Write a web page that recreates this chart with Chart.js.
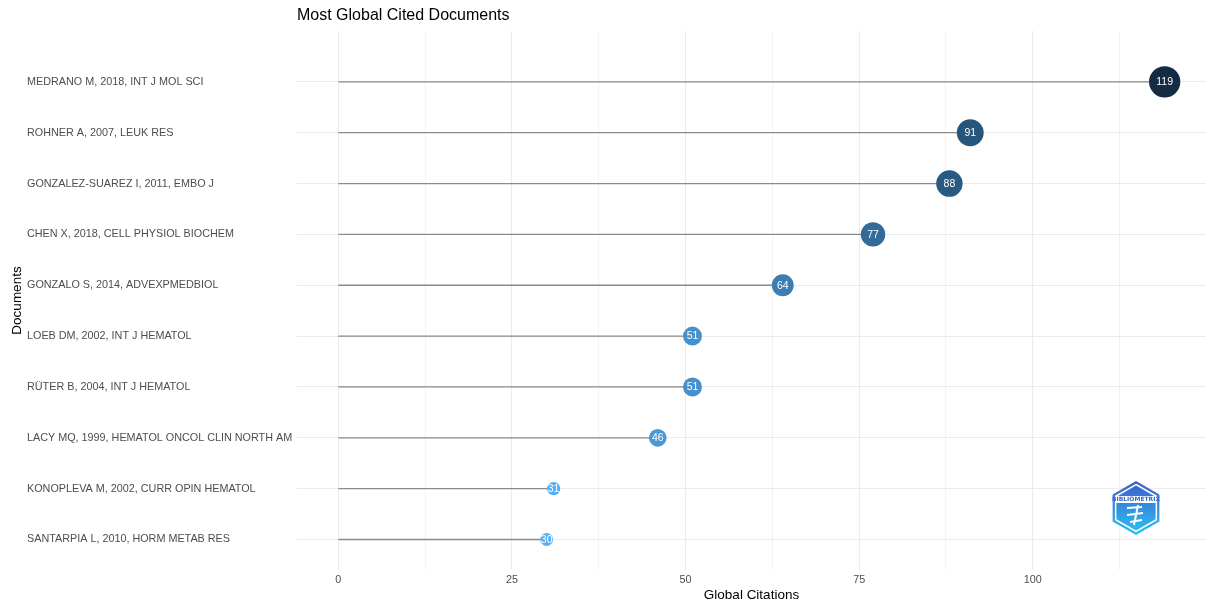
<!DOCTYPE html>
<html>
<head>
<meta charset="utf-8">
<script src="https://cdn.jsdelivr.net/npm/chart.js@4"></script>
<style>
    html, body { margin: 0; padding: 0; background: #ffffff; overflow: hidden; }
    canvas { display: block; }
</style>
</head>
<body>
<canvas id="chart" width="1206" height="605"></canvas>
<script>
// Documents, top to bottom as in the picture
const documents = [
    'MEDRANO M, 2018, INT J MOL SCI',
    'ROHNER A, 2007, LEUK RES',
    'GONZALEZ-SUAREZ I, 2011, EMBO J',
    'CHEN X, 2018, CELL PHYSIOL BIOCHEM',
    'GONZALO S, 2014, ADVEXPMEDBIOL',
    'LOEB DM, 2002, INT J HEMATOL',
    'RÜTER B, 2004, INT J HEMATOL',
    'LACY MQ, 1999, HEMATOL ONCOL CLIN NORTH AM',
    'KONOPLEVA M, 2002, CURR OPIN HEMATOL',
    'SANTARPIA L, 2010, HORM METAB RES'
];
const citations = [119, 91, 88, 77, 64, 51, 51, 46, 31, 30];
const xTickValues = [0, 25, 50, 75, 100];
const xMinorValues = [12.5, 37.5, 62.5, 87.5, 112.5];

const n = documents.length;
const minC = Math.min(...citations);
const maxC = Math.max(...citations);

// ggplot-like colour gradient (light blue -> dark navy)
function pointColor(v) {
    const lo = [86, 177, 247];
    const hi = [19, 43, 67];
    const t = (v - minC) / (maxC - minC);
    const c = lo.map((l, k) => Math.round(l + (hi[k] - l) * t));
    return `rgb(${c[0]}, ${c[1]}, ${c[2]})`;
}

// point size grows with area
function pointRadius(v) {
    const t = (v - minC) / (maxC - minC);
    return Math.sqrt(42 + t * (245 - 42));
}

// one stick per document
const stickSets = citations.map((v, i) => ({
    type: 'line',
    data: [{ x: 0, y: n - 1 - i }, { x: v, y: n - 1 - i }],
    borderColor: '#8a8a8a',
    borderWidth: 1.3,
    pointRadius: 0,
    order: 2
}));

const pointSet = {
    type: 'scatter',
    data: citations.map((v, i) => ({ x: v, y: n - 1 - i })),
    pointRadius: ctx => pointRadius(ctx.raw.x),
    pointHoverRadius: ctx => pointRadius(ctx.raw.x),
    backgroundColor: ctx => pointColor(ctx.raw.x),
    borderWidth: 0,
    clip: false,
    order: 1
};

function hexPath(ctx, cx, cy, r) {
    ctx.beginPath();
    for (let k = 0; k < 6; k++) {
        const a = -Math.PI / 2 + k * Math.PI / 3;
        const px = cx + r * Math.cos(a), py = cy + r * Math.sin(a);
        k === 0 ? ctx.moveTo(px, py) : ctx.lineTo(px, py);
    }
    ctx.closePath();
}

// value labels, titles and logo drawn by hand
const extras = {
    id: 'extras',
    afterDatasetsDraw(chart) {
        const ctx = chart.ctx;
        const meta = chart.getDatasetMeta(chart.data.datasets.length - 1);
        ctx.save();
        ctx.fillStyle = '#ffffff';
        ctx.textAlign = 'center';
        ctx.textBaseline = 'middle';
        ctx.font = '10.5px "Liberation Sans", Arial, sans-serif';
        meta.data.forEach((pt, i) => {
            ctx.fillText(String(citations[i]), pt.x, pt.y + 0.5);
        });
        ctx.restore();
    },
    afterDraw(chart) {
        const ctx = chart.ctx;
        const area = chart.chartArea;
        ctx.save();
        ctx.fillStyle = '#000000';
        ctx.textBaseline = 'middle';
        ctx.font = '16px "Liberation Sans", Arial, sans-serif';
        ctx.textAlign = 'left';
        ctx.fillText('Most Global Cited Documents', area.left, 16);

        ctx.font = '13.5px "Liberation Sans", Arial, sans-serif';
        ctx.translate(17, (area.top + area.bottom) / 2);
        ctx.rotate(-Math.PI / 2);
        ctx.textAlign = 'center';
        ctx.fillText('Documents', 0, 0);
        ctx.restore();

        // bibliometrix badge
        const cx = 1136, cy = 508, r = 27;
        ctx.save();
        const grad = ctx.createLinearGradient(0, cy - r, 0, cy + r);
        grad.addColorStop(0, '#3d5cc6');
        grad.addColorStop(1, '#2ac4f4');
        hexPath(ctx, cx, cy, r);
        ctx.fillStyle = grad;
        ctx.fill();
        hexPath(ctx, cx, cy, r - 3.5);
        ctx.strokeStyle = '#ffffff';
        ctx.lineWidth = 1.5;
        ctx.stroke();
        ctx.fillStyle = '#ffffff';
        ctx.fillRect(cx - 21, cy - 12, 42, 7);
        ctx.fillStyle = '#3566cf';
        ctx.font = 'bold 6px "DejaVu Sans", sans-serif';
        ctx.textAlign = 'center';
        ctx.textBaseline = 'middle';
        ctx.fillText('BIBLIOMETRIX', cx, cy - 8.5);
        ctx.strokeStyle = '#ffffff';
        ctx.lineWidth = 2;
        ctx.beginPath();
        ctx.moveTo(cx - 9, cy); ctx.lineTo(cx + 6, cy - 1);
        ctx.moveTo(cx - 9, cy + 7); ctx.lineTo(cx + 7, cy + 5);
        ctx.moveTo(cx - 6, cy + 14); ctx.lineTo(cx + 6, cy + 12);
        ctx.moveTo(cx + 2, cy - 3); ctx.lineTo(cx - 2, cy + 17);
        ctx.stroke();
        ctx.restore();
    }
};

new Chart(document.getElementById('chart'), {
    data: { datasets: [...stickSets, pointSet] },
    options: {
        responsive: false,
        animation: false,
        layout: {
            autoPadding: false,
            padding: { left: 27, top: 31, right: 0, bottom: 0 }
        },
        plugins: {
            legend: { display: false },
            tooltip: { enabled: false },
            title: { display: false }
        },
        scales: {
            x: {
                type: 'linear',
                min: -5.95,
                max: 124.95,
                afterBuildTicks: scale => {
                    scale.ticks = [...xTickValues, ...xMinorValues]
                        .sort((a, b) => a - b)
                        .map(v => ({ value: v }));
                },
                afterFit: scale => {
                    scale.height = 35;
                    scale.paddingRight = 0;
                },
                border: { display: false },
                grid: {
                    drawTicks: false,
                    color: ctx => xMinorValues.includes(ctx.tick.value) ? '#f3f3f3' : '#ebebeb',
                    lineWidth: ctx => xMinorValues.includes(ctx.tick.value) ? 1 : 1.1
                },
                ticks: {
                    autoSkip: false,
                    maxRotation: 0,
                    padding: 4,
                    color: '#4d4d4d',
                    font: { family: '"Liberation Sans", Arial, sans-serif', size: 10.8 },
                    callback: v => xTickValues.includes(v) ? String(v) : ''
                },
                title: {
                    display: true,
                    text: 'Global Citations',
                    color: '#000000',
                    font: { family: '"Liberation Sans", Arial, sans-serif', size: 13.5 },
                    padding: { top: 0, bottom: 2 }
                }
            },
            y: {
                type: 'linear',
                min: -0.6,
                max: 10,
                afterBuildTicks: scale => {
                    scale.ticks = documents.map((d, i) => ({ value: n - 1 - i }));
                },
                afterFit: scale => { scale.width = 270; },
                border: { display: false },
                grid: { drawTicks: false, color: '#ebebeb', lineWidth: 1.1 },
                ticks: {
                    autoSkip: false,
                    crossAlign: 'far',
                    padding: 0,
                    color: '#4d4d4d',
                    font: { family: '"Liberation Sans", Arial, sans-serif', size: 10.8 },
                    callback: v => documents[n - 1 - v]
                }
            }
        }
    },
    plugins: [extras]
});
</script>
</body>
</html>
